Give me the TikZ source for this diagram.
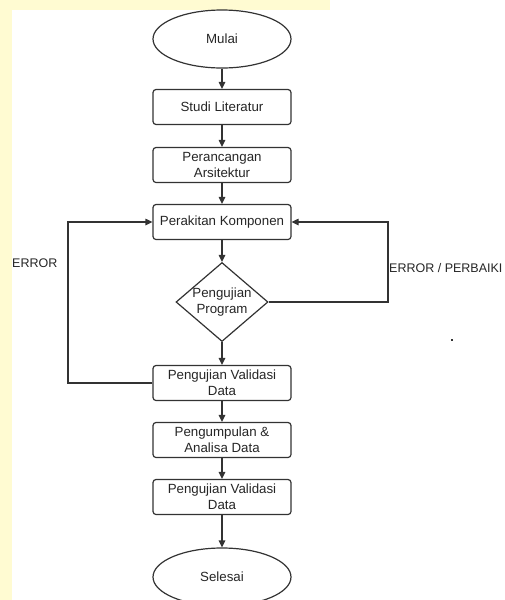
\documentclass[tikz,border=0pt]{standalone}
\usepackage{fontspec}
\setmainfont{Liberation Sans}
\usetikzlibrary{shapes.geometric,arrows.meta}
\definecolor{ln}{HTML}{333333}
\definecolor{wm}{HTML}{FFFBD2}
\tikzset{
  stepbox/.style={draw=ln, line width=1.2pt, rounded corners=3pt, minimum width=138pt, minimum height=35pt, inner sep=0pt, align=center, font=\fontsize{13.3}{16}\selectfont, text=black!85},
  term/.style={draw=ln, line width=1.2pt, ellipse, minimum width=138pt, minimum height=58pt, inner sep=0pt, font=\fontsize{13.3}{16}\selectfont, text=black!85},
  decide/.style={draw=ln, line width=1.2pt, diamond, minimum width=92pt, minimum height=79pt, inner sep=0pt},
  lbl/.style={font=\fontsize{12.5}{15}\selectfont, text=black!85, inner sep=0pt},
  arr/.style={draw=ln, line width=1.2pt, -{Triangle[length=7pt,width=6.5pt]}},
}
\begin{document}
\begin{tikzpicture}[x=1pt,y=-1pt]
\useasboundingbox (0,0) rectangle (504,600);
\fill[white] (0,0) rectangle (504,600);
\fill[wm] (0,0) rectangle (12,600);
\fill[wm] (0,0) rectangle (330,10);

\node[term] (start) at (222,39) {Mulai};
\node[stepbox] (studi) at (222,107) {Studi Literatur};
\node[stepbox] (rancang) at (222,165) {Perancangan\\Arsitektur};
\node[stepbox] (rakit) at (222,222) {Perakitan Komponen};
\node[decide, label={[font=\fontsize{13.3}{16}\selectfont, text=black!85, align=center]center:Pengujian\\Program}] (uji) at (222,302) {};
\node[stepbox] (valid1) at (222,383) {Pengujian Validasi\\Data};
\node[stepbox] (kumpul) at (222,440) {Pengumpulan \&\\Analisa Data};
\node[stepbox] (valid2) at (222,497) {Pengujian Validasi\\Data};
\node[term] (end) at (222,577) {Selesai};

\coordinate (lcorner1) at (68,383);
\coordinate (lcorner2) at (68,222);
\coordinate (rcorner1) at (388,302);
\coordinate (rcorner2) at (388,222);

\draw[arr] (start) -- (studi);
\draw[arr] (studi) -- (rancang);
\draw[arr] (rancang) -- (rakit);
\draw[arr] (rakit) -- (uji);
\draw[arr] (uji) -- (valid1);
\draw[arr] (valid1) -- (kumpul);
\draw[arr] (kumpul) -- (valid2);
\draw[arr] (valid2) -- (end);

\draw[arr] (valid1.west) -- (lcorner1) -- (lcorner2) -- (rakit.west);
\draw[arr] (uji.east) -- (rcorner1) -- (rcorner2) -- (rakit.east);

\node[lbl, anchor=west] (errl) at (12,263) {ERROR};
\node[lbl, anchor=west] (errr) at (389,268) {ERROR / PERBAIKI};
\fill[ln] (451,339) rectangle (453,341);
\end{tikzpicture}
\end{document}
